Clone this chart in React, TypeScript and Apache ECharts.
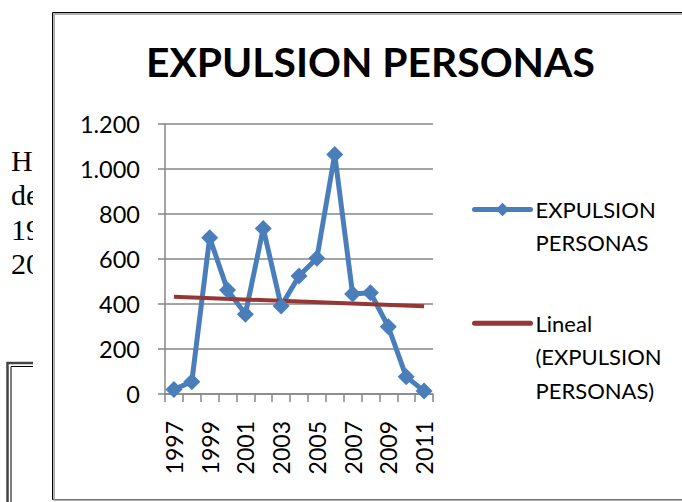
import React, { useEffect, useRef } from "react";
import * as echarts from "echarts";

const years = ["1997", "1998", "1999", "2000", "2001", "2002", "2003", "2004", "2005", "2006", "2007", "2008", "2009", "2010", "2011"];
const expulsion = [20, 55, 695, 462, 355, 736, 391, 524, 603, 1065, 444, 450, 299, 77, 13];
// Excel linear trendline, read at first and last year
const trendFirst = 432;
const trendLast = 390;
const trend = years.map((_, i) => (i === 0 ? trendFirst : i === years.length - 1 ? trendLast : null));
const yTicks = { min: 0, max: 1200, interval: 200 };
const sideWords = ["H", "de", "19", "20"];
const seriesName = "EXPULSION PERSONAS";
const trendName = "Lineal (EXPULSION PERSONAS)";

const FONT = "Lato";
const BLUE = "#4A7EBB";
const RED = "#953735";
const fmt = (v: number) => String(v).replace(/\B(?=(\d{3})+(?!\d))/g, ".");

export default function App() {
  const ref = useRef<HTMLDivElement>(null);
  useEffect(() => {
    if (!ref.current) return;
    const chart = echarts.init(ref.current, undefined, { renderer: "svg" });
    const sideTexts = sideWords.map((w, i) => ({
      type: "text",
      z: 0,
      x: 11,
      y: 160 + i * 34.5,
      style: { text: w, font: "30px 'Liberation Serif', serif", fill: "#000", verticalAlign: "middle" },
    }));
    chart.setOption({
      animation: false,
      backgroundColor: "#fff",
      title: {
        text: seriesName,
        left: 141,
        top: 35.5,
        z: 12,
        textStyle: { fontFamily: FONT, fontWeight: "bold", fontSize: 40.8, color: "#000" },
      },
      grid: { left: 165, right: 249, top: 124, bottom: 108, containLabel: false },
      graphic: [
        ...sideTexts,
        { type: "polyline", z: 0, shape: { points: [[40, 363], [7.5, 363], [7.5, 520]] }, style: { stroke: "#444", lineWidth: 2.5, fill: "none" } },
        { type: "polyline", z: 0, shape: { points: [[40, 366.5], [11, 366.5], [11, 520]] }, style: { stroke: "#000", lineWidth: 1, fill: "none" } },
        { type: "rect", z: 1, shape: { x: 33, y: 0, width: 700, height: 510 }, style: { fill: "#fff" } },
        { type: "rect", z: 2, shape: { x: 52.5, y: 12.5, width: 700, height: 487 }, style: { fill: "none", stroke: "#000", lineWidth: 1 } },
        { type: "rect", z: 2, shape: { x: 54, y: 14, width: 700, height: 486 }, style: { fill: "none", stroke: "#999", lineWidth: 1.5 } },
      ],
      legend: [
        {
          z: 12,
          data: [seriesName],
          left: 472,
          top: 160,
          padding: 0,
          itemWidth: 56,
          itemHeight: 17,
          itemGap: 4,
          selectedMode: false,
          lineStyle: { width: 5, cap: "round" },
          formatter: () => " \nEXPULSION\nPERSONAS",
          textStyle: { fontFamily: FONT, fontSize: 22, lineHeight: 33, color: "#000" },
        },
        {
          z: 12,
          data: [{ name: trendName, itemStyle: { opacity: 0 } }],
          left: 472,
          top: 239.5,
          padding: 0,
          itemWidth: 56,
          itemHeight: 17,
          itemGap: 4,
          selectedMode: false,
          lineStyle: { width: 5, cap: "round" },
          formatter: () => " \n \nLineal\n(EXPULSION\nPERSONAS)",
          textStyle: { fontFamily: FONT, fontSize: 22, lineHeight: 33.5, color: "#000" },
        },
      ],
      xAxis: {
        type: "category",
        data: years,
        z: 10,
        boundaryGap: true,
        axisLine: { lineStyle: { color: "#868686", width: 1.5 } },
        axisTick: { show: true, inside: false, length: 8, interval: 0, lineStyle: { color: "#868686", width: 1.5 } },
        axisLabel: { interval: 1, rotate: 90, margin: 27, color: "#000", fontFamily: FONT, fontSize: 23 },
        splitLine: { show: false },
      },
      yAxis: {
        type: "value",
        z: 10,
        min: yTicks.min,
        max: yTicks.max,
        interval: yTicks.interval,
        axisLine: { show: true, lineStyle: { color: "#868686", width: 1.5 } },
        axisTick: { show: true, inside: false, length: 7, lineStyle: { color: "#868686", width: 1.5 } },
        axisLabel: { margin: 25, color: "#000", fontFamily: FONT, fontSize: 23.5, formatter: (v: number) => fmt(v) },
        splitLine: { show: true, lineStyle: { color: "#868686", width: 1.5 } },
      },
      series: [
        {
          name: seriesName,
          type: "line",
          z: 11,
          data: expulsion,
          symbol: "diamond",
          symbolSize: 17,
          showAllSymbol: true,
          lineStyle: { color: BLUE, width: 5 },
          itemStyle: { color: BLUE },
        },
        {
          name: trendName,
          type: "line",
          z: 11,
          data: trend,
          connectNulls: true,
          symbol: "none",
          lineStyle: { color: RED, width: 4 },
          itemStyle: { color: RED },
        },
      ],
    });
    return () => chart.dispose();
  }, []);
  return <div ref={ref} style={{ position: "fixed", left: 0, top: 0, width: 682, height: 502 }} />;
}
